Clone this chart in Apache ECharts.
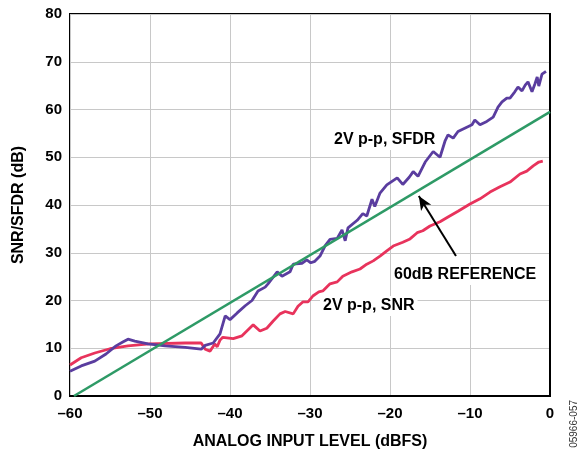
<!DOCTYPE html>
<html>
<head>
<meta charset="utf-8">
<script src="https://cdn.jsdelivr.net/npm/echarts@6/dist/echarts.min.js"></script>
<style>
html,body{margin:0;padding:0;background:#fff;overflow:hidden;}
#chart{width:582px;height:455px;}
</style>
</head>
<body>
<div id="chart"></div>
<script>
// ---- data ----
const xTicks = [-60, -50, -40, -30, -20, -10, 0];
const yTicks = [0, 10, 20, 30, 40, 50, 60, 70, 80];

const sfdr = [
  [-60,5.2],[-58.6,6.3],[-56.9,7.3],[-55.5,8.8],[-54.25,10.5],[-53.4,11.3],[-52.75,11.9],
  [-51.9,11.5],[-50.25,10.9],[-48.1,10.5],[-45.6,10.2],[-43.6,9.8],[-43.1,10.6],[-42.1,11.1],
  [-41.25,13],[-40.6,16.8],[-40,16.0],[-39.1,17.4],[-38.1,18.9],[-37.25,20.0],[-36.5,22],
  [-35.6,22.8],[-35.25,23.5],[-34.1,26],[-33.5,25.1],[-32.5,26],[-32.1,27.6],[-31,27.8],
  [-30.4,28.5],[-29.9,27.9],[-29.4,28.2],[-28.75,29.3],[-28.1,31.5],[-27.5,32.8],[-26.6,33.0],
  [-26.0,34.8],[-25.6,32.5],[-25.25,35.2],[-24.1,36.8],[-23.4,38.2],[-22.9,37.7],[-22.25,41.2],
  [-21.9,39.7],[-21.25,42.5],[-20.4,44.2],[-19.1,45.7],[-18.4,44.3],[-17.6,45.8],[-17.1,47.0],
  [-16.5,46.0],[-15.6,49.0],[-14.6,51.2],[-13.75,50.0],[-13.1,53.5],[-12.75,54.7],[-12.1,54.0],
  [-11.5,55.4],[-10.4,56.3],[-9.75,56.8],[-9.4,57.8],[-8.75,56.8],[-7.9,57.5],[-7.1,58.4],
  [-6.5,60.5],[-6,61.6],[-5.4,62.4],[-5,62.4],[-4.4,63.7],[-4,64.7],[-3.5,63.9],[-3.1,65.1],
  [-2.75,65.8],[-2.25,63.7],[-1.9,65.3],[-1.6,66.8],[-1.4,64.9],[-1,67.4],[-0.5,68]
];

const snr = [
  [-60,6.5],[-58.6,8.0],[-56.9,9.0],[-55,9.9],[-52.75,10.5],[-50.1,10.9],[-45.6,11.1],
  [-43.6,11.1],[-43.1,9.8],[-42.5,9.4],[-41.9,10.9],[-41.6,10.3],[-41.25,11.7],[-40.9,12.3],
  [-39.6,12.0],[-38.5,12.6],[-37.1,14.9],[-36.25,13.6],[-35.4,14.2],[-34.6,15.7],[-33.75,17.2],
  [-33.1,17.7],[-32.1,17.2],[-31.5,18.8],[-30.9,19.7],[-30.25,19.7],[-29.6,21.0],[-28.9,21.8],
  [-28.4,22.0],[-27.5,23.5],[-26.6,23.9],[-25.9,25.1],[-24.75,26.0],[-23.75,26.6],[-22.9,27.6],
  [-22.1,28.3],[-21.25,29.3],[-20.4,30.4],[-19.6,31.4],[-18.4,32.2],[-17.5,32.9],[-16.6,34.2],
  [-15.9,34.6],[-15,35.6],[-13.75,36.5],[-12.75,37.5],[-11.5,38.7],[-10,40.2],[-8.75,41.3],
  [-7.5,42.7],[-6.25,43.8],[-5,44.8],[-3.75,46.5],[-2.9,47.1],[-2.1,48.2],[-1.4,49],[-0.9,49.2]
];

const reference = [[-59.5,0],[0,59.5]];
const arrowFrom = [-11.75, 29.3];
const arrowTo = [-16.4, 41.9];

const labels = {
  sfdr: '2V p-p, SFDR',
  snr: '2V p-p, SNR',
  ref: '60dB REFERENCE'
};

// ---- chart ----
const FONT = '"Liberation Sans", Arial, Helvetica, sans-serif';
const chart = echarts.init(document.getElementById('chart'), null, {renderer:'canvas'});
const dash = v => String(v).replace('-', '\u2013');

chart.setOption({
  animation: false,
  backgroundColor: '#fff',
  grid: {left:70, right:32, top:14, bottom:51, show:true, borderColor:'#000', borderWidth:2},
  xAxis: {
    type:'value', min:-60, max:0, interval:10,
    name:'ANALOG INPUT LEVEL (dBFS)', nameLocation:'middle', nameGap:38,
    nameTextStyle:{fontFamily:FONT, fontWeight:'bold', fontSize:16, color:'#000'},
    axisLine:{show:true, onZero:false, lineStyle:{color:'#000', width:2}},
    axisTick:{show:false},
    axisLabel:{fontFamily:FONT, fontWeight:'bold', fontSize:15, color:'#000', margin:10,
      formatter: v => xTicks.includes(v) ? dash(v) : ''},
    splitLine:{show:true, lineStyle:{color:'#c8c8c8', width:1}}
  },
  yAxis: {
    type:'value', min:0, max:80, interval:10,
    name:'SNR/SFDR (dB)', nameLocation:'middle', nameGap:43,
    nameTextStyle:{fontFamily:FONT, fontWeight:'bold', fontSize:16, color:'#000'},
    axisLine:{show:true, lineStyle:{color:'#000', width:2}},
    axisTick:{show:false},
    axisLabel:{fontFamily:FONT, fontWeight:'bold', fontSize:15, color:'#000', margin:8,
      formatter: v => yTicks.includes(v) ? String(v) : ''},
    splitLine:{show:true, lineStyle:{color:'#c8c8c8', width:1}}
  },
  series: [
    {type:'line', name:'SNR', data:snr, showSymbol:false, smooth:false,
      lineStyle:{color:'#e8335c', width:2.8}, z:2},
    {type:'line', name:'SFDR', data:sfdr, showSymbol:false, smooth:false,
      lineStyle:{color:'#5a3d9f', width:2.8}, z:3},
    {type:'line', name:'REF', data:reference, showSymbol:false,
      lineStyle:{color:'#2e9a66', width:2.6}, z:4,
      markLine:{
        silent:true, symbol:['none','arrow'], symbolSize:[9,14],
        label:{show:false},
        lineStyle:{color:'#000', width:2, type:'solid'},
        data:[[{coord:arrowFrom},{coord:arrowTo}]]
      }}
  ],
  graphic: [
    {type:'text', left:331, top:130, z:10,
      style:{text:labels.sfdr, font:'bold 16px '+FONT, fill:'#000', backgroundColor:'#fff', padding:[2,3]}},
    {type:'text', left:320, top:296, z:10,
      style:{text:labels.snr, font:'bold 16px '+FONT, fill:'#000', backgroundColor:'#fff', padding:[2,3]}},
    {type:'text', left:391, top:265, z:10,
      style:{text:labels.ref, font:'bold 16px '+FONT, fill:'#000', backgroundColor:'#fff', padding:[2,3]}},
    {type:'text', left:569, top:400, rotation:Math.PI/2, z:10,
      style:{text:'05966-057', font:'10px '+FONT, fill:'#333'}}
  ]
});
</script>
</body>
</html>
